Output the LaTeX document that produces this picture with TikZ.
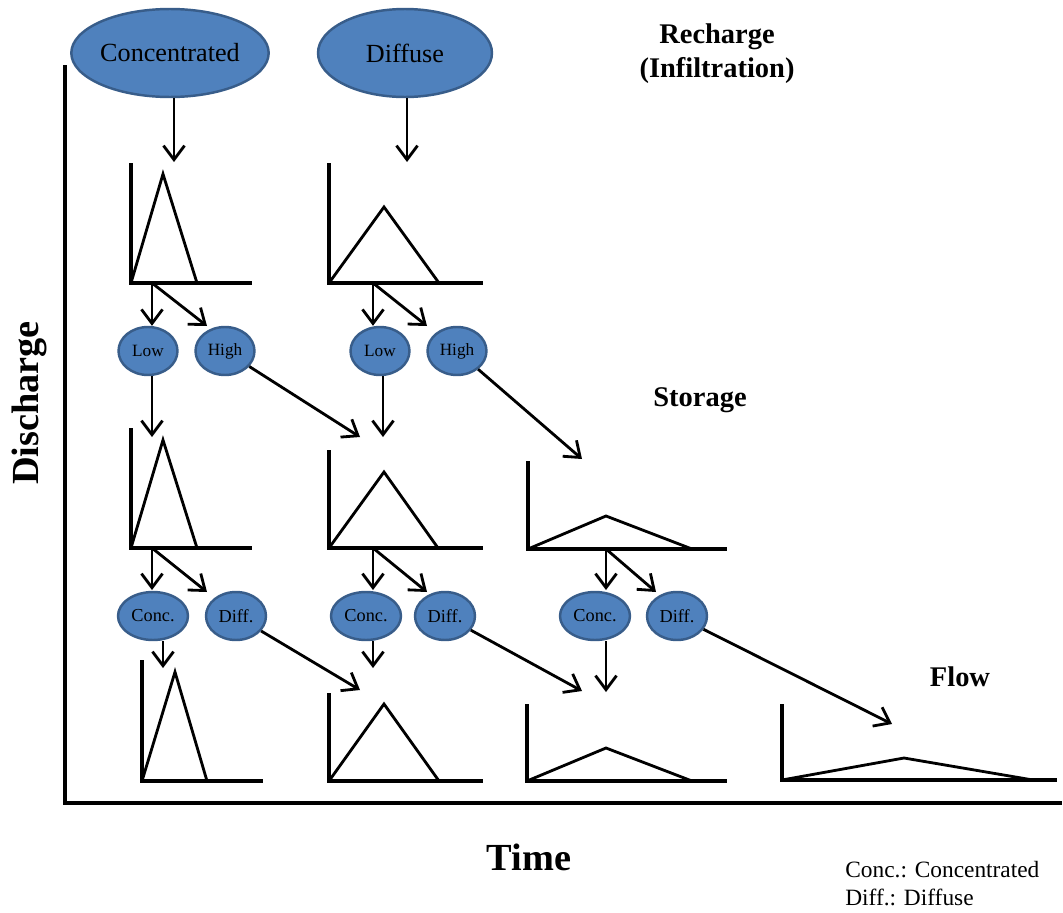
\documentclass[tikz,border=0pt]{standalone}
\usepackage{fontspec}
\setmainfont{Liberation Serif}
\usetikzlibrary{shapes.geometric,arrows.meta,calc}
\definecolor{ellfill}{RGB}{79,129,189}
\definecolor{elldraw}{RGB}{56,93,138}
\newcommand{\hplot}[7]{%
  \draw[plotax] (#1,#3) -- (#1,#2) -- (#4,#2);
  \draw[curve] (#1,#2) -- (#5,#6) -- (#7,#2);}
\begin{document}
\begin{tikzpicture}[x=0.02cm,y=-0.02cm,
  ell/.style={ellipse,fill=ellfill,draw=elldraw,line width=1.4pt,inner sep=0pt},
  big/.style={ell,minimum height=1.76cm,font=\fontsize{14.9}{17}\selectfont},
  small/.style={ell,minimum height=0.96cm,minimum width=1.18cm,font=\fontsize{9.8}{11}\selectfont},
  mid/.style={ell,minimum height=0.96cm,font=\fontsize{10.4}{12}\selectfont},
  arr/.style={line width=1.6pt,-{Straight Barb[length=8pt,width=12pt,line width=1.6pt]}},
  plotax/.style={line width=1.9pt,line join=miter},
  curve/.style={line width=1.6pt,line join=miter},
  lbl/.style={font=\bfseries\fontsize{16.2}{19.3}\selectfont,align=center},
  axlbl/.style={font=\bfseries\fontsize{21.8}{26}\selectfont},
  leg/.style={font=\fontsize{13.3}{16}\selectfont,anchor=base west,inner sep=0pt},
]
\useasboundingbox (0,0) rectangle (1063,913);
\fill[white] (0,0) rectangle (1063,913);

% main axes
\draw[line width=2.3pt,line join=miter] (65,65) -- (65,803) -- (1062,803);

% labels
\node[lbl] (rech) at (717,54) {Recharge\\(Infiltration)};
\node[lbl] (stor) at (700,400) {Storage};
\node[lbl] (flow) at (960,677) {Flow};
\node[axlbl,rotate=90] (dis) at (29,403) {Discharge};
\node[axlbl] (time) at (529,857) {Time};
\node[leg] (leg1) at (845,877) {Conc.: Concentrated};
\node[leg] (leg2) at (845,905) {Diff.: Diffuse};

% recharge ellipses
\node[big,minimum width=3.8cm] (conc) at (170,53) {Concentrated};
\node[big,minimum width=3.48cm] (diff) at (405,53) {Diffuse};

% storage ellipses
\node[small] (low1) at (148,351) {Low};
\node[small] (high1) at (225,351) {High};
\node[small] (low2) at (380,351) {Low};
\node[small] (high2) at (457,351) {High};

% flow ellipses
\node[mid,minimum width=1.4cm] (conc1) at (153,616) {Conc.};
\node[mid,minimum width=1.2cm] (diff1) at (236,616) {Diff.};
\node[mid,minimum width=1.4cm] (conc2) at (366,616) {Conc.};
\node[mid,minimum width=1.2cm] (diff2) at (445,616) {Diff.};
\node[mid,minimum width=1.4cm] (conc3) at (595,616) {Conc.};
\node[mid,minimum width=1.2cm] (diff3) at (677,616) {Diff.};

% hydrographs: x0, base, top, xend, peak x, peak y, end x
\hplot{131}{283}{163}{252}{163}{174}{197}
\hplot{329}{283}{163}{483}{384}{207}{439}
\hplot{131}{548}{428}{252}{163}{440}{197}
\hplot{329}{548}{450}{483}{384}{472}{438}
\hplot{528}{549}{461}{727}{606}{516}{692}
\hplot{142}{781}{660}{263}{175}{672}{207}
\hplot{329}{781}{693}{483}{384}{704}{439}
\hplot{527}{781}{704}{727}{606}{748}{692}
\hplot{782}{780}{704}{1057}{904}{758}{1033}

% connector start and end points
\coordinate (a1) at (174,162);
\coordinate (a2) at (407,162);
\coordinate (s1) at (152,283);
\coordinate (s2) at (373,283);
\coordinate (d1) at (207,326);
\coordinate (d2) at (427,326);
\coordinate (t1) at (152,437);
\coordinate (t2) at (360,437);
\coordinate (t3) at (383,437);
\coordinate (t4) at (582,459);
\coordinate (s3) at (152,548);
\coordinate (s4) at (373,548);
\coordinate (s5) at (606,549);
\coordinate (v1) at (152,590);
\coordinate (e1) at (207,592);
\coordinate (v2) at (373,590);
\coordinate (e2) at (427,592);
\coordinate (v3) at (606,590);
\coordinate (e3) at (656,592);
\coordinate (f1) at (163,668);
\coordinate (f2) at (360,690);
\coordinate (f3) at (373,668);
\coordinate (f4) at (582,691);
\coordinate (f5) at (606,692);
\coordinate (f6) at (892,724);

% arrows
\draw[arr] (a1 |- conc.south) -- (a1);
\draw[arr] (a2 |- diff.south) -- (a2);
\draw[arr] (s1) -- (s1 |- low1.north);
\draw[arr] (s1) -- (d1);
\draw[arr] (s2) -- (s2 |- low2.north);
\draw[arr] (s2) -- (d2);
\draw[arr] (t1 |- low1.south) -- (t1);
\draw[arr] (high1) -- (t2);
\draw[arr] (t3 |- low2.south) -- (t3);
\draw[arr] (high2) -- (t4);
\draw[arr] (s3) -- (v1);
\draw[arr] (s3) -- (e1);
\draw[arr] (s4) -- (v2);
\draw[arr] (s4) -- (e2);
\draw[arr] (s5) -- (v3);
\draw[arr] (s5) -- (e3);
\draw[arr] (f1 |- conc1.south) -- (f1);
\draw[arr] (diff1) -- (f2);
\draw[arr] (f3 |- conc2.south) -- (f3);
\draw[arr] (diff2) -- (f4);
\draw[arr] (f5 |- conc3.south) -- (f5);
\draw[arr] (diff3) -- (f6);
\end{tikzpicture}
\end{document}
